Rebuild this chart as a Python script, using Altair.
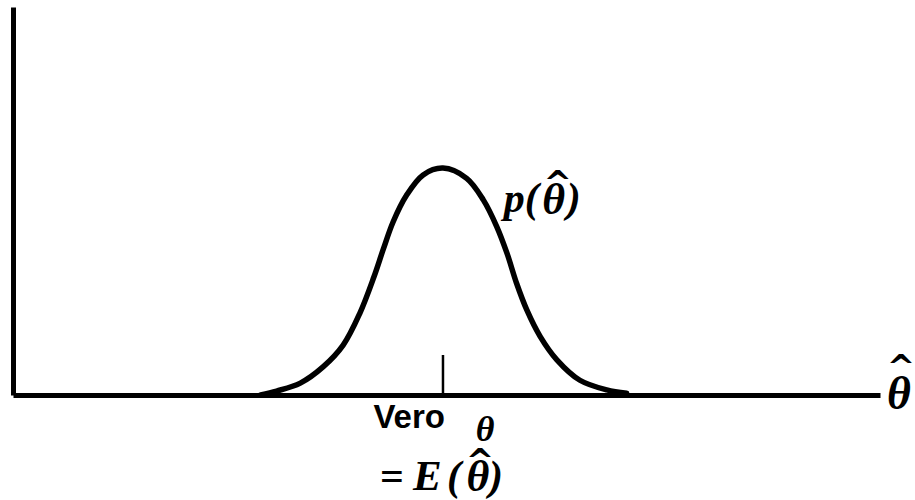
import altair as alt
import pandas as pd

# Sampling distribution of the estimator (theta-hat measured from the true value)
theta_hat = [-2.85, -2.60, -2.23, -1.87, -1.56, -1.30, -1.08, -0.93, -0.78, -0.57,
             -0.31, 0.0, 0.37, 0.63, 0.84, 1.00, 1.15, 1.31, 1.52, 1.78,
             2.14, 2.56, 2.87]
density = [0.000, 0.007, 0.021, 0.050, 0.088, 0.144, 0.208, 0.258, 0.305, 0.352,
           0.388, 0.400, 0.382, 0.344, 0.297, 0.250, 0.197, 0.150, 0.103, 0.062,
           0.026, 0.009, 0.003]

true_theta = 0.0
x_domain = [-6.72, 6.83]
y_domain = [0.0, 0.684]

# point on the curve where the p(θ̂) label is attached
label_point = {"x": [0.84], "y": [0.297]}

curve_df = pd.DataFrame({"theta_hat": theta_hat, "p": density})

serif = "Liberation Serif"
sans = "Liberation Sans"

x_scale = alt.Scale(domain=x_domain, nice=False, zero=False)
y_scale = alt.Scale(domain=y_domain, nice=False, zero=False)

curve = alt.Chart(curve_df).mark_line(
    color="black", strokeWidth=5.5, interpolate="catmull-rom", strokeCap="round"
).encode(
    x=alt.X("theta_hat:Q", scale=x_scale,
            axis=alt.Axis(domain=True, domainColor="black", domainWidth=5,
                          ticks=False, labels=False, grid=False, title=None)),
    y=alt.Y("p:Q", scale=y_scale,
            axis=alt.Axis(domain=True, domainColor="black", domainWidth=5,
                          ticks=False, labels=False, grid=False, title=None)),
)

# short tick marking the true parameter value
tick = alt.Chart(pd.DataFrame({"t": [true_theta]})).mark_rule(
    color="black", strokeWidth=2.5
).encode(
    x=alt.X("t:Q", scale=x_scale),
    y=alt.datum(0.0),
    y2=alt.value(348),
)


def label(x, y, text, dx, dy, size, font=serif, italic=True, bold=True,
          align="left"):
    """Text anchored at a data point (x, y) and nudged by dx/dy pixels."""
    props = dict(text=text, font=font, fontSize=size, align=align,
                 baseline="alphabetic", dx=dx, dy=dy, color="black")
    if italic:
        props["fontStyle"] = "italic"
    if bold:
        props["fontWeight"] = "bold"
    return alt.Chart(pd.DataFrame({"x": [x], "y": [y]})).mark_text(**props).encode(
        x=alt.X("x:Q", scale=x_scale), y=alt.Y("y:Q", scale=y_scale))


def hat(x, y, dx, dy):
    """Wide circumflex drawn above a theta."""
    return label(x, y, "^", dx, dy, 34, font="DejaVu Sans", italic=False,
                 align="center")


# "Vero θ" and "= E(θ̂)" under the tick
texts = [
    label(true_theta, 0.0, "Vero", 2, 33, 33, font=sans, italic=False, align="right"),
    label(true_theta, 0.0, "θ", 42, 46, 36, align="center"),
    label(true_theta, 0.0, "=", -63, 95, 42, italic=False),
    label(true_theta, 0.0, "E", -30, 95, 43),
    label(true_theta, 0.0, "(", 4, 95, 42),
    label(true_theta, 0.0, "θ", 35, 96, 44, align="center"),
    hat(true_theta, 0.0, 37, 78),
    label(true_theta, 0.0, ")", 46, 95, 42),
]

# p(θ̂) beside the curve
px, py = label_point["x"][0], label_point["y"][0]
texts += [
    label(px, py, "p(", 7, -15, 42),
    label(px, py, "θ", 57, -13, 44, align="center"),
    hat(px, py, 61, -32),
    label(px, py, ")", 70, -15, 42),
]

# θ̂ at the end of the horizontal axis
texts += [
    label(x_domain[1], 0.0, "θ", 19, 14, 46, align="center"),
    hat(x_domain[1], 0.0, 21, -16),
]

chart = alt.layer(curve, tick, *texts).properties(
    width=867,
    height=388,
    padding={"left": 13, "top": 7, "right": 35, "bottom": 105},
    autosize=alt.AutoSizeParams(type="none"),
    background="white",
).configure_view(stroke=None)

chart.save("out.html", embed_options={"renderer": "svg", "actions": False})
